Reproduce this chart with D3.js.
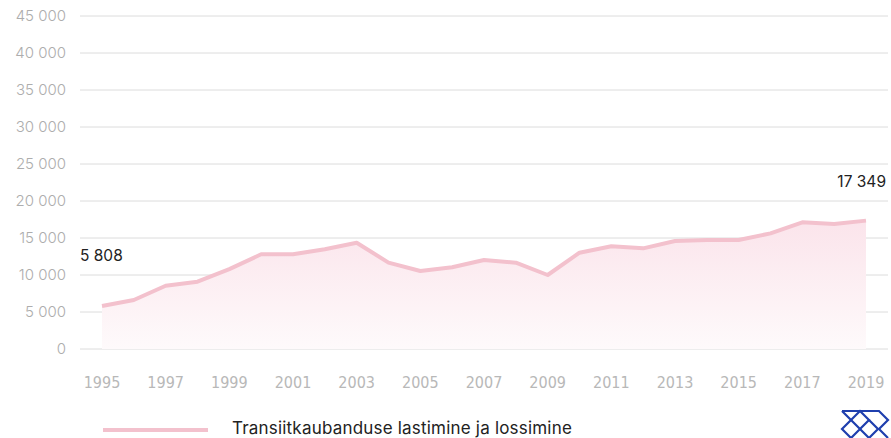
<!DOCTYPE html>
<html>
<head>
<meta charset="utf-8">
<script src="https://cdn.jsdelivr.net/npm/d3@7"></script>
<style>
  body { margin: 0; background: #fff; }
  svg { display: block; }
</style>
</head>
<body>
<div id="chart"></div>
<script>
// data
var years = d3.range(1995, 2020);
var values = [5808, 6620, 8550, 9100, 10800, 12800, 12800, 13470, 14360, 11670,
    10540, 11040, 12030, 11670, 10000, 13010, 13880, 13600, 14600, 14730,
    14730, 15630, 17120, 16890, 17349];
var yTicks = [0, 5000, 10000, 15000, 20000, 25000, 30000, 35000, 40000, 45000];
var xTicks = [1995, 1997, 1999, 2001, 2003, 2005, 2007, 2009, 2011, 2013, 2015, 2017, 2019];
var seriesName = "Transiitkaubanduse lastimine ja lossimine";

var width = 891, height = 438;
var fmt = function(v) {
    return d3.format(",")(v).replace(/,/g, " ");
};

var svg = d3.select("#chart").append("svg")
    .attr("width", width)
    .attr("height", height);

var x = d3.scaleLinear().domain([1995, 2019]).range([102, 866]);
var y = d3.scaleLinear().domain([0, 45000]).range([349, 16]);

var defs = svg.append("defs");
var grad = defs.append("linearGradient")
    .attr("id", "fillGrad")
    .attr("x1", 0).attr("y1", 0).attr("x2", 0).attr("y2", 1);
grad.append("stop").attr("offset", "0%").attr("stop-color", "#fbe4eb");
grad.append("stop").attr("offset", "100%").attr("stop-color", "#fefafb");

// grid
svg.append("g").selectAll("line")
    .data(yTicks)
    .enter().append("line")
    .attr("x1", 80).attr("x2", 888)
    .attr("y1", d => y(d)).attr("y2", d => y(d))
    .attr("stroke", "#dcdcdc")
    .attr("stroke-width", 1);

svg.append("g").selectAll("text")
    .data(yTicks)
    .enter().append("text")
    .attr("x", 66)
    .attr("y", d => y(d))
    .attr("dy", "0.35em")
    .attr("text-anchor", "end")
    .attr("font-family", "Inter, 'Noto Sans', sans-serif")
    .attr("font-size", 15)
    .attr("font-weight", 300)
    .attr("fill", "#adadad")
    .text(d => fmt(d));

var pts = years.map((yr, i) => [yr, values[i]]);

var area = d3.area()
    .x(d => x(d[0]))
    .y0(y(0))
    .y1(d => y(d[1]));
svg.append("path")
    .datum(pts)
    .attr("d", area)
    .attr("fill", "url(#fillGrad)");

var line = d3.line()
    .x(d => x(d[0]))
    .y(d => y(d[1]));
svg.append("path")
    .datum(pts)
    .attr("d", line)
    .attr("fill", "none")
    .attr("stroke", "#f3c1cd")
    .attr("stroke-width", 4)
    .attr("stroke-linejoin", "round");

// x labels
svg.append("g").selectAll("text")
    .data(xTicks)
    .enter().append("text")
    .attr("x", d => x(d))
    .attr("y", 388)
    .attr("text-anchor", "middle")
    .attr("font-family", "'Liberation Sans Narrow', 'DejaVu Sans Condensed', sans-serif")
    .attr("font-size", 16)
    .attr("fill", "#b8b8b8")
    .text(d => d);

// value labels at ends
svg.append("text")
    .attr("x", 80)
    .attr("y", 261)
    .attr("font-family", "Inter, 'Noto Sans', sans-serif")
    .attr("font-size", 15.5)
    .attr("fill", "#222")
    .text(fmt(values[0]));
svg.append("text")
    .attr("x", 886)
    .attr("y", 187)
    .attr("text-anchor", "end")
    .attr("font-family", "Inter, 'Noto Sans', sans-serif")
    .attr("font-size", 15.5)
    .attr("fill", "#222")
    .text(fmt(values[values.length - 1]));

// legend
svg.append("line")
    .attr("x1", 103).attr("x2", 208)
    .attr("y1", 430).attr("y2", 430)
    .attr("stroke", "#f3c1cd")
    .attr("stroke-width", 4);
svg.append("text")
    .attr("x", 232)
    .attr("y", 434)
    .attr("font-family", "Inter, 'Noto Sans', sans-serif")
    .attr("font-size", 17)
    .attr("letter-spacing", 0.2)
    .attr("fill", "#222")
    .text(seriesName);

// logo
var logo = svg.append("g")
    .attr("fill", "none")
    .attr("stroke", "#1f3fae")
    .attr("stroke-width", 2.2)
    .attr("stroke-linejoin", "miter");
logo.append("path").attr("d", "M842,411 L879,411 L888,420 L879,429 L888,438");
logo.append("path").attr("d", "M842,411 L851,420 L842,429 L851,438");
logo.append("path").attr("d", "M851,420 L860,411 L869,420 L860,429 L869,438");
logo.append("path").attr("d", "M851,420 L860,429 L851,438");
logo.append("path").attr("d", "M869,420 L878,429 L869,438");
</script>
</body>
</html>
